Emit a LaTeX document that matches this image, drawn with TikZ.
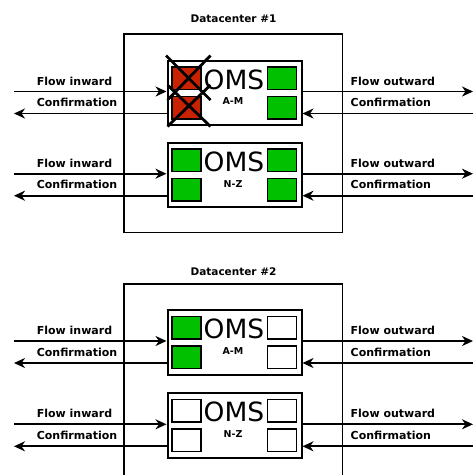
\documentclass[tikz,border=0pt]{standalone}
\usepackage{fontspec}
\setmainfont{DejaVu Sans}
\usetikzlibrary{arrows.meta}
\definecolor{failred}{RGB}{200,34,0}
\definecolor{okgreen}{RGB}{0,192,0}

% One OMS server with its four flows.
% #1 name, #2 top edge, #3 key range, #4 fill of left slots, #5 fill of right slots
\newcommand\omsunit[5]{%
  \node[omsbox, anchor=north west] (#1) at (166.5,#2) {};
  \node[slot, fill=#4] (#1-l1) at ([xshift=4.5pt,yshift=-6.5pt]#1.north west) {};
  \node[slot, fill=#4] (#1-l2) at ([xshift=4.5pt,yshift=-36pt]#1.north west) {};
  \node[slot, fill=#5, anchor=north east] (#1-r1) at ([xshift=-5.5pt,yshift=-6.5pt]#1.north east) {};
  \node[slot, fill=#5, anchor=north east] (#1-r2) at ([xshift=-5.5pt,yshift=-36pt]#1.north east) {};
  \node[omsname] (#1-name) at (234,{#2+20}) {OMS};
  \node[rangelbl] (#1-range) at (233,{#2+42}) {#3};
  \coordinate (#1-in) at (14,{#2+32});
  \coordinate (#1-back) at (14,{#2+54});
  \coordinate (#1-out) at (473,{#2+32});
  \coordinate (#1-ret) at (473,{#2+54});
  \draw[flow] (#1-in) -- (#1-in -| #1.west);
  \draw[flow] (#1-back -| #1.west) -- (#1-back);
  \draw[flow] (#1-out -| #1.east) -- (#1-out);
  \draw[flow] (#1-ret) -- (#1-ret -| #1.east);
  \node[lbl] (#1-inlbl) at (74.5,{#2+21.5}) {Flow inward};
  \node[lbl] (#1-backlbl) at (77,{#2+43}) {Confirmation};
  \node[lbl, anchor=west] (#1-outlbl) at (350.5,{#2+21.5}) {Flow outward};
  \node[lbl, anchor=west] (#1-retlbl) at (350.5,{#2+43}) {Confirmation};
}

\begin{document}
\begin{tikzpicture}[x=1pt,y=-1pt,
  dcbox/.style={draw, line width=1.4pt},
  omsbox/.style={draw, line width=2pt, fill=white, minimum width=134pt, minimum height=64.5pt, inner sep=0pt},
  slot/.style={draw, line width=1.5pt, minimum width=29pt, minimum height=22.5pt, inner sep=0pt, anchor=north west},
  flow/.style={line width=1.8pt, -{Stealth[length=11pt,width=10pt,inset=3.5pt]}},
  lbl/.style={font=\bfseries\fontsize{11}{11}\selectfont, inner sep=0pt},
  dclbl/.style={font=\bfseries\fontsize{10.5}{10.5}\selectfont, inner sep=0pt},
  omsname/.style={font=\fontsize{26.5}{26.5}\selectfont, inner sep=0pt},
  rangelbl/.style={font=\bfseries\fontsize{9.5}{9.5}\selectfont, inner sep=0pt},
  cross/.style={line width=2.8pt},
]
\useasboundingbox (0,0) rectangle (473,475);
\fill[white] (0,0) rectangle (473,475);

% datacenters
\draw[dcbox] (124,34) rectangle (342.5,232.5);
\node[dclbl] (dc1) at (233.5,18.5) {Datacenter \#1};
\draw[dcbox] (124,480) -- (124,284) -- (342.5,284) -- (342.5,480);
\node[dclbl] (dc2) at (233.5,272) {Datacenter \#2};

% servers
\omsunit{oneam}{59.5}{A-M}{failred}{okgreen}
\omsunit{onenz}{141.7}{N-Z}{okgreen}{okgreen}
\omsunit{twoam}{309}{A-M}{okgreen}{white}
\omsunit{twonz}{392.3}{N-Z}{white}{white}

% failed slots
\draw[cross] (166,55.5) -- (210.5,100);
\draw[cross] (210.5,55.5) -- (167.5,100);
\draw[cross] (167.5,85) -- (210.5,126.5);
\draw[cross] (210.5,85) -- (167.5,126.5);
\end{tikzpicture}
\end{document}
